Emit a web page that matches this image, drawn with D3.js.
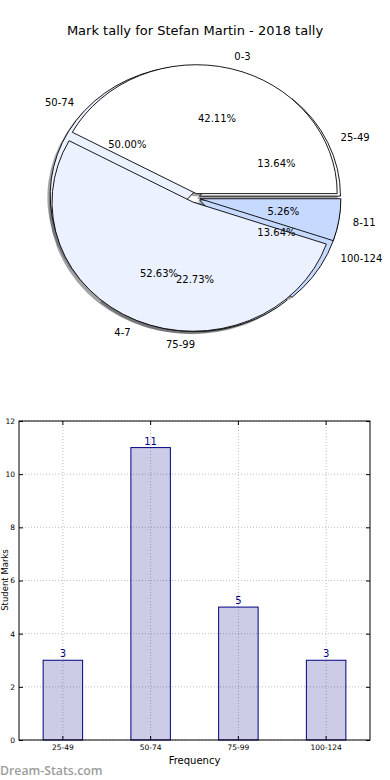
<!DOCTYPE html>
<html>
<head>
<meta charset="utf-8">
<script src="https://cdn.jsdelivr.net/npm/d3@7"></script>
<style>
  body { margin: 0; background: #fff; }
  svg { display: block; font-family: "DejaVu Sans", sans-serif; }
</style>
</head>
<body>
<div id="chart"></div>
<script>
// Dados do gráfico
const title = "Mark tally for Stefan Martin - 2018 tally";

// primeira torta (desenhada por cima)
const pieALabels = ["0-3", "4-7", "8-11"];
const pieAValues = [8, 10, 1];
const pieAColors = ["#ffffff", "#ebf1ff", "#c6d9ff"];

// segunda torta (por baixo) - mesmas faixas das barras
const categories = ["25-49", "50-74", "75-99", "100-124"];
const counts = [3, 11, 5, 3];
const pieBColors = ["#ffffff", "#ebf1ff", "#ebf1ff", "#c6d9ff"];

const yTicks = [0, 2, 4, 6, 8, 10, 12];
const xLabel = "Frequency";
const yLabel = "Student Marks";
const watermark = "Dream-Stats.com";

const W = 390, H = 780;
const svg = d3.select("#chart").append("svg")
    .attr("width", W)
    .attr("height", H);

svg.append("text")
    .attr("x", 195)
    .attr("y", 30)
    .attr("text-anchor", "middle")
    .attr("dominant-baseline", "central")
    .attr("font-size", 13)
    .attr("fill", "#000")
    .text(title);

// ---- Torta (elíptica, como no matplotlib sem axis equal)
const cx = 195, cy = 198, rx = 141, ry = 129;
const explode = 0.035;
const sx = d3.scaleLinear().domain([-1, 1]).range([cx - rx, cx + rx]);
const sy = d3.scaleLinear().domain([-1, 1]).range([cy + ry, cy - ry]);

const pie = d3.pie().sort(null)
    .startAngle(Math.PI / 2)
    .endAngle(Math.PI / 2 - 2 * Math.PI);
const arc = d3.arc().innerRadius(0).outerRadius(1);

function slices(values, labels, colors) {
    return pie(values).map((d, i) => {
        const m = (d.startAngle + d.endAngle) / 2;
        return {
            arc: d,
            label: labels[i],
            color: colors[i],
            pct: d.value / d3.sum(values) * 100,
            ux: Math.sin(m),
            uy: Math.cos(m)
        };
    });
}

const sliceA = slices(pieAValues, pieALabels, pieAColors);
const sliceB = slices(counts, categories, pieBColors);
const allSlices = sliceB.concat(sliceA);

const pieG = svg.append("g");

// sombras
pieG.selectAll(".shadow")
    .data(allSlices)
    .enter()
    .append("path")
    .attr("class", "shadow")
    .attr("transform", d => `translate(${sx(d.ux * explode - 0.02)},${sy(d.uy * explode - 0.02)}) scale(${rx},${ry})`)
    .attr("d", d => arc(d.arc))
    .attr("fill", d => {
        const c = d3.rgb(d.color);
        return d3.rgb(c.r * 0.3, c.g * 0.3, c.b * 0.3);
    })
    .attr("fill-opacity", 0.5);

// fatias
pieG.selectAll(".wedge")
    .data(allSlices)
    .enter()
    .append("path")
    .attr("class", "wedge")
    .attr("transform", d => `translate(${sx(d.ux * explode)},${sy(d.uy * explode)}) scale(${rx},${ry})`)
    .attr("d", d => arc(d.arc))
    .attr("fill", d => d.color)
    .attr("stroke", "#000")
    .attr("stroke-width", 0.9)
    .attr("vector-effect", "non-scaling-stroke")
    .attr("stroke-linejoin", "miter");

// rótulos externos
pieG.selectAll(".plabel")
    .data(allSlices)
    .enter()
    .append("text")
    .attr("class", "plabel")
    .attr("x", d => sx(d.ux * explode + 1.1 * d.ux))
    .attr("y", d => sy(d.uy * explode + 1.1 * d.uy))
    .attr("text-anchor", d => d.ux > 0 ? "start" : "end")
    .attr("dominant-baseline", "central")
    .attr("font-size", 10)
    .text(d => d.label);

// percentuais
pieG.selectAll(".pct")
    .data(allSlices)
    .enter()
    .append("text")
    .attr("class", "pct")
    .attr("x", d => sx(d.ux * explode + 0.6 * d.ux))
    .attr("y", d => sy(d.uy * explode + 0.6 * d.uy))
    .attr("text-anchor", "middle")
    .attr("dominant-baseline", "central")
    .attr("font-size", 10)
    .text(d => d3.format(".2f")(d.pct) + "%");

// ---- Barras
const bx0 = 19, bx1 = 370, by0 = 421, by1 = 740;

const x = d3.scaleBand()
    .domain(categories)
    .range([bx0, bx1])
    .paddingInner(0.55)
    .paddingOuter(0.275);

const y = d3.scaleLinear()
    .domain([0, 12])
    .range([by1, by0]);

const barG = svg.append("g");

// grade pontilhada
barG.selectAll(".hgrid")
    .data(yTicks)
    .enter()
    .append("line")
    .attr("x1", bx0).attr("x2", bx1)
    .attr("y1", d => y(d)).attr("y2", d => y(d))
    .attr("stroke", "#bdbdbd")
    .attr("stroke-dasharray", "1,2");

barG.selectAll(".vgrid")
    .data(categories)
    .enter()
    .append("line")
    .attr("x1", d => x(d) + x.bandwidth() / 2)
    .attr("x2", d => x(d) + x.bandwidth() / 2)
    .attr("y1", by0).attr("y2", by1)
    .attr("stroke", "#bdbdbd")
    .attr("stroke-dasharray", "1,2");

barG.selectAll(".bar")
    .data(counts)
    .enter()
    .append("rect")
    .attr("class", "bar")
    .attr("x", (d, i) => x(categories[i]))
    .attr("y", d => y(d))
    .attr("width", x.bandwidth())
    .attr("height", d => y(0) - y(d))
    .attr("fill", "navy")
    .attr("fill-opacity", 0.2)
    .attr("stroke", "navy")
    .attr("stroke-width", 1);

barG.selectAll(".val")
    .data(counts)
    .enter()
    .append("text")
    .attr("x", (d, i) => x(categories[i]) + x.bandwidth() / 2)
    .attr("y", d => y(d) - 3)
    .attr("text-anchor", "middle")
    .attr("font-size", 10)
    .attr("fill", "navy")
    .text(d => d);

// moldura
barG.append("rect")
    .attr("x", bx0).attr("y", by0)
    .attr("width", bx1 - bx0).attr("height", by1 - by0)
    .attr("fill", "none")
    .attr("stroke", "#000")
    .attr("stroke-width", 1);

// eixos com ticks para dentro
const axisLeft = barG.append("g")
    .attr("transform", `translate(${bx0},0)`)
    .call(d3.axisLeft(y).tickValues(yTicks).tickSizeInner(-4).tickSizeOuter(0).tickPadding(4));
const axisRight = barG.append("g")
    .attr("transform", `translate(${bx1},0)`)
    .call(d3.axisRight(y).tickValues(yTicks).tickSizeInner(-4).tickSizeOuter(0).tickFormat(""));
const axisBottom = barG.append("g")
    .attr("transform", `translate(0,${by1})`)
    .call(d3.axisBottom(x).tickSizeInner(-4).tickSizeOuter(0).tickPadding(5));
const axisTop = barG.append("g")
    .attr("transform", `translate(0,${by0})`)
    .call(d3.axisTop(x).tickSizeInner(-4).tickSizeOuter(0).tickFormat(""));

[axisLeft, axisRight, axisBottom, axisTop].forEach(a => {
    a.select(".domain").remove();
    a.selectAll("text")
        .attr("font-family", "DejaVu Sans, sans-serif")
        .attr("font-size", 7.5)
        .attr("fill", "#000");
    a.selectAll("line").attr("stroke", "#000");
});

svg.append("text")
    .attr("x", (bx0 + bx1) / 2)
    .attr("y", 760)
    .attr("text-anchor", "middle")
    .attr("dominant-baseline", "central")
    .attr("font-size", 10)
    .text(xLabel);

svg.append("text")
    .attr("transform", `translate(5,580) rotate(-90)`)
    .attr("text-anchor", "middle")
    .attr("dominant-baseline", "central")
    .attr("font-size", 8.5)
    .text(yLabel);

svg.append("text")
    .attr("x", 0)
    .attr("y", 770)
    .attr("dominant-baseline", "central")
    .attr("font-family", "Open Sans, sans-serif")
    .attr("font-size", 12.3)
    .attr("font-weight", 600)
    .attr("fill", "#9c9c9c")
    .text(watermark);
</script>
</body>
</html>
